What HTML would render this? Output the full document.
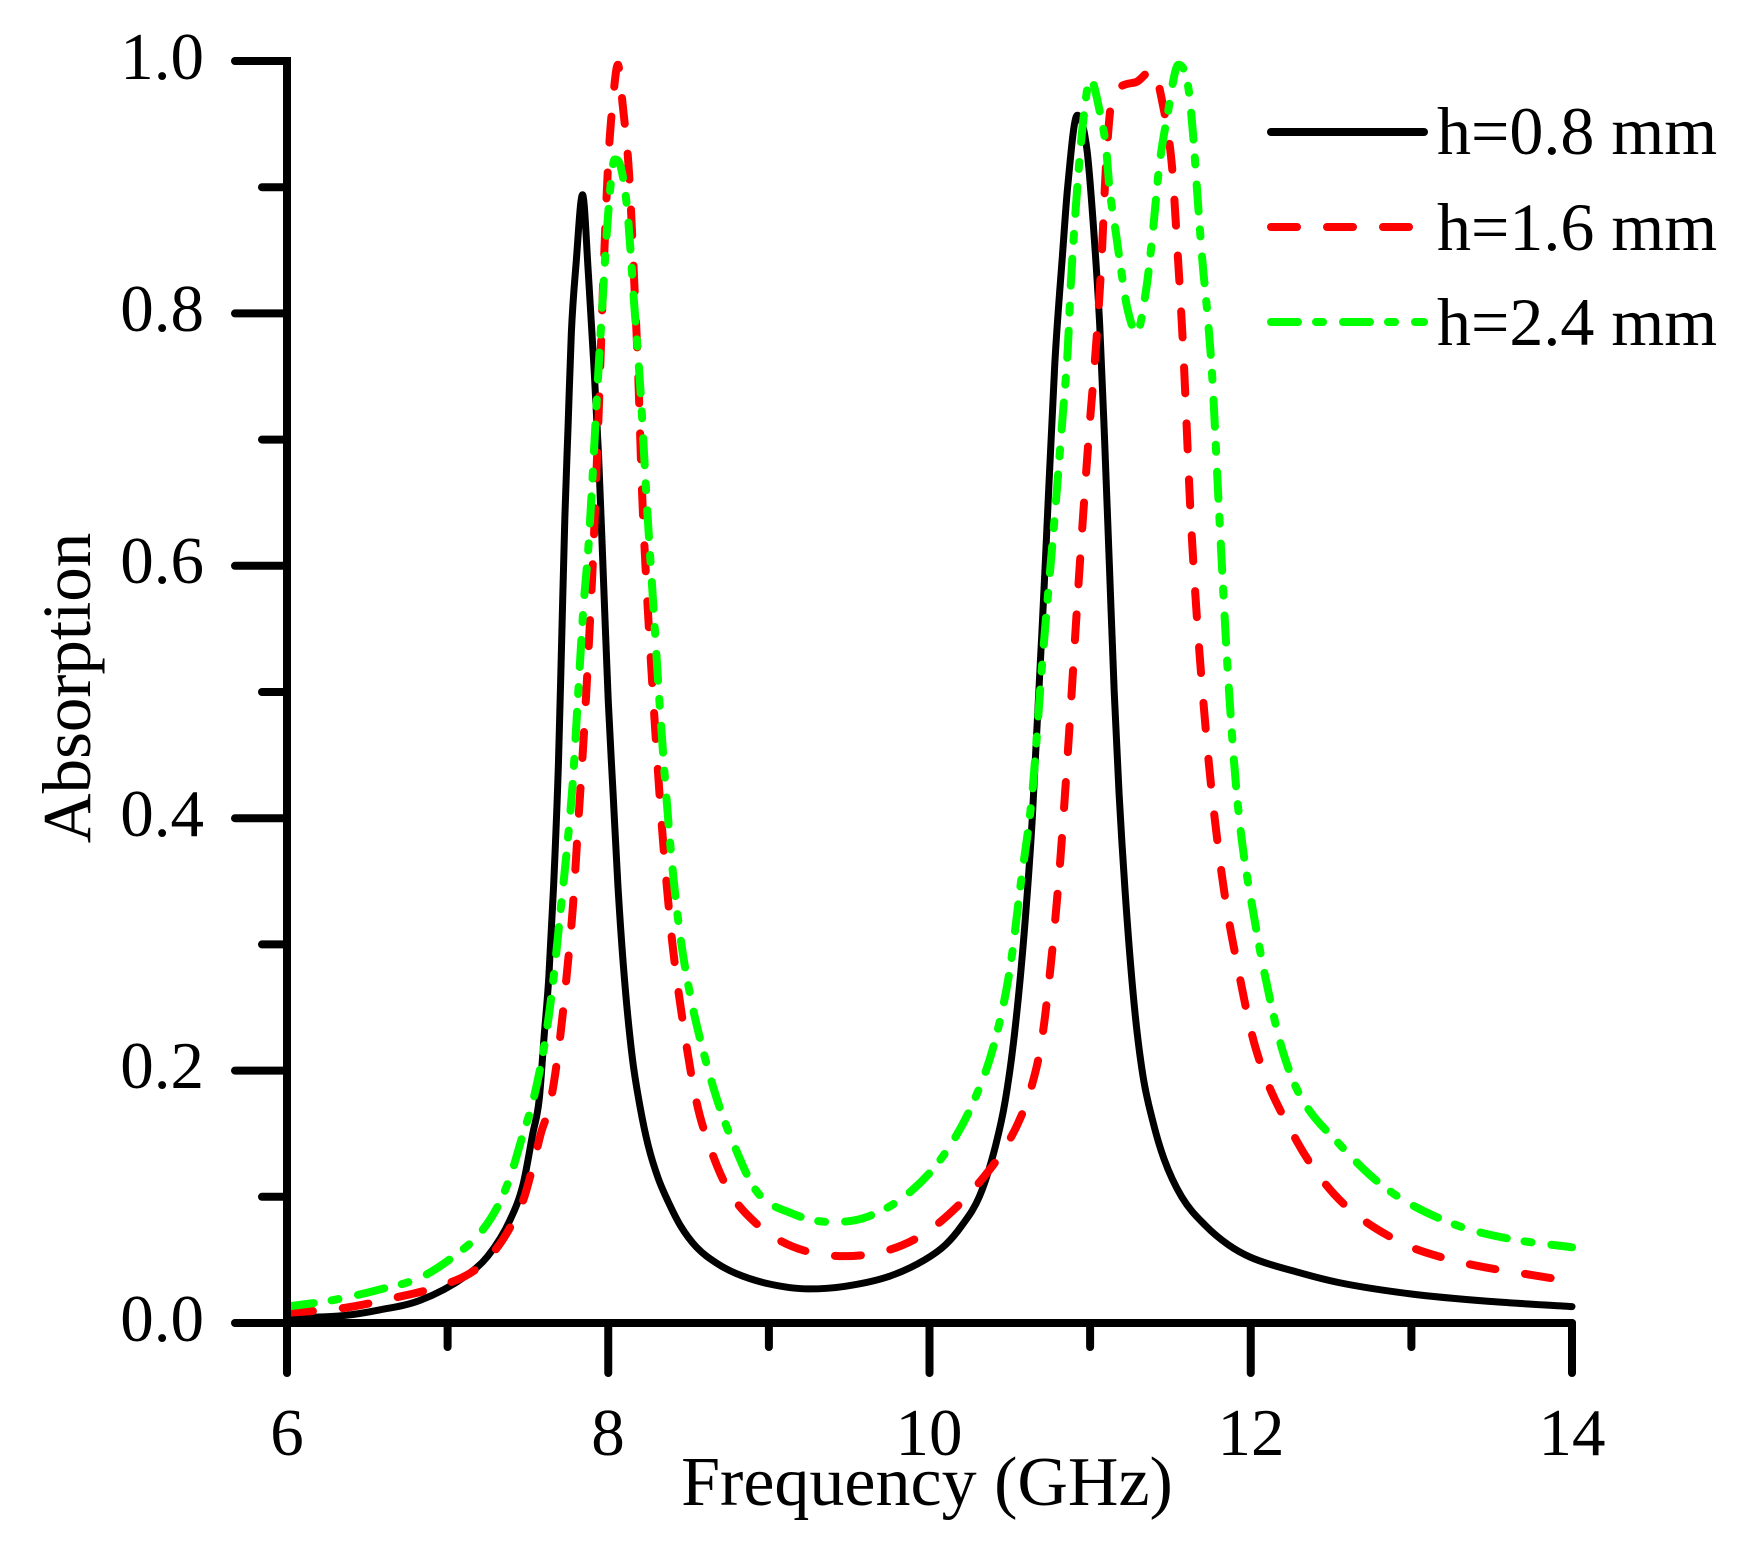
<!DOCTYPE html>
<html>
<head>
<meta charset="utf-8">
<style>
  html, body { margin: 0; padding: 0; background: #ffffff; }
  svg { display: block; }
  text { font-family: "Liberation Serif", "Times New Roman", serif; fill: #000; }
</style>
</head>
<body>
<svg id="chart" width="1750" height="1542" viewBox="0 0 1750 1542" xmlns="http://www.w3.org/2000/svg">
  <rect x="0" y="0" width="1750" height="1542" fill="#ffffff"/>

  <!-- curves -->
  <path id="cBlack" fill="none" stroke="#000000" stroke-width="7" stroke-linejoin="round" stroke-linecap="round" d=""/>
  <path id="cRed" fill="none" stroke="#ff0000" stroke-width="8" stroke-linejoin="round" stroke-linecap="round" stroke-dasharray="26 30" d=""/>
  <path id="cGreen" fill="none" stroke="#00ff00" stroke-width="8" stroke-linejoin="round" stroke-linecap="round" stroke-dasharray="27 18 7 20" d=""/>

  <!-- axes -->
  <g stroke="#000" stroke-width="8" fill="none" stroke-linecap="round">
    <path d="M235,61 H287 V1373" stroke-linejoin="miter" stroke-linecap="round"/>
    <line x1="235" y1="1323" x2="1572" y2="1323"/>
    <!-- y major ticks -->
    <line x1="235" y1="1070.6" x2="287" y2="1070.6"/>
    <line x1="235" y1="818.2" x2="287" y2="818.2"/>
    <line x1="235" y1="565.8" x2="287" y2="565.8"/>
    <line x1="235" y1="313.4" x2="287" y2="313.4"/>
    <!-- y minor ticks -->
    <line x1="262" y1="1196.8" x2="287" y2="1196.8"/>
    <line x1="262" y1="944.4" x2="287" y2="944.4"/>
    <line x1="262" y1="692" x2="287" y2="692"/>
    <line x1="262" y1="439.6" x2="287" y2="439.6"/>
    <line x1="262" y1="187.2" x2="287" y2="187.2"/>
    <!-- x major ticks -->
    <line x1="608.25" y1="1323" x2="608.25" y2="1373"/>
    <line x1="929.5" y1="1323" x2="929.5" y2="1373"/>
    <line x1="1250.75" y1="1323" x2="1250.75" y2="1373"/>
    <line x1="1572" y1="1323" x2="1572" y2="1373"/>
    <!-- x minor ticks -->
    <line x1="447.6" y1="1323" x2="447.6" y2="1347"/>
    <line x1="768.9" y1="1323" x2="768.9" y2="1347"/>
    <line x1="1090.1" y1="1323" x2="1090.1" y2="1347"/>
    <line x1="1411.4" y1="1323" x2="1411.4" y2="1347"/>
  </g>

  <!-- y tick labels -->
  <g font-size="67" text-anchor="end">
    <text x="204" y="1341">0.0</text>
    <text x="204" y="1088">0.2</text>
    <text x="204" y="836">0.4</text>
    <text x="204" y="583">0.6</text>
    <text x="204" y="331">0.8</text>
    <text x="204" y="79">1.0</text>
  </g>

  <!-- x tick labels -->
  <g font-size="67" text-anchor="middle">
    <text x="287" y="1455">6</text>
    <text x="608" y="1455">8</text>
    <text x="929" y="1455">10</text>
    <text x="1251" y="1455">12</text>
    <text x="1572" y="1455">14</text>
  </g>

  <!-- axis titles -->
  <text x="927" y="1505" font-size="70" text-anchor="middle">Frequency (GHz)</text>
  <text transform="translate(90,688) rotate(-90)" font-size="69" text-anchor="middle">Absorption</text>

  <!-- legend -->
  <line x1="1271" y1="132" x2="1424" y2="132" stroke="#000" stroke-width="8" stroke-linecap="round"/>
  <line x1="1271" y1="227" x2="1413" y2="227" stroke="#ff0000" stroke-width="8" stroke-linecap="round" stroke-dasharray="26 30"/>
  <line x1="1271" y1="322" x2="1424" y2="322" stroke="#00ff00" stroke-width="8" stroke-linecap="round" stroke-dasharray="27 18 7 20"/>
  <g font-size="68">
    <text x="1437" y="154">h=0.8 mm</text>
    <text x="1437" y="250">h=1.6 mm</text>
    <text x="1437" y="345">h=2.4 mm</text>
  </g>
</svg>

<script>
(function(){
  function px(f){ return 287 + (f-6)*160.625; }
  function py(a){ return 1323 - a*1262; }
  function build(pts){
    var n = pts.length, xs=[], ys=[], i;
    for(i=0;i<n;i++){ xs.push(px(pts[i][0])); ys.push(py(pts[i][1])); }
    var dx=[], m=[], t=[];
    for(i=0;i<n-1;i++){ dx.push(xs[i+1]-xs[i]); m.push((ys[i+1]-ys[i])/(xs[i+1]-xs[i])); }
    t[0]=m[0]; t[n-1]=m[n-2];
    for(i=1;i<n-1;i++){ t[i] = (m[i-1]*m[i] <= 0) ? 0 : (m[i-1]+m[i])/2; }
    for(i=0;i<n-1;i++){
      if(m[i]===0){ t[i]=0; t[i+1]=0; continue; }
      var a=t[i]/m[i], b=t[i+1]/m[i], s=a*a+b*b;
      if(s>9){ var tau=3/Math.sqrt(s); t[i]=tau*a*m[i]; t[i+1]=tau*b*m[i]; }
    }
    var d = "M"+xs[0].toFixed(2)+","+ys[0].toFixed(2);
    for(i=0;i<n-1;i++){
      var h=dx[i]/3;
      d += " C"+(xs[i]+h).toFixed(2)+","+(ys[i]+t[i]*h).toFixed(2)+" "+
           (xs[i+1]-h).toFixed(2)+","+(ys[i+1]-t[i+1]*h).toFixed(2)+" "+
           xs[i+1].toFixed(2)+","+ys[i+1].toFixed(2);
    }
    return d;
  }
  var black = [[6.0,0.004],[6.36,0.006],[6.56,0.010],[6.83,0.018],[7.11,0.037],[7.25,0.053],[7.39,0.082],[7.47,0.11],[7.53,0.15],[7.57,0.177],[7.60,0.226],[7.63,0.274],[7.66,0.347],[7.69,0.444],[7.71,0.541],[7.73,0.639],[7.75,0.711],[7.77,0.784],[7.80,0.84],[7.84,0.894],[7.876,0.832],[7.91,0.76],[7.94,0.687],[7.97,0.59],[8.0,0.493],[8.03,0.42],[8.06,0.347],[8.10,0.274],[8.15,0.21],[8.20,0.17],[8.25,0.14],[8.31,0.115],[8.37,0.097],[8.45,0.077],[8.55,0.06],[8.68,0.047],[8.8,0.039],[9.0,0.031],[9.25,0.027],[9.47,0.029],[9.75,0.037],[9.97,0.05],[10.1,0.062],[10.2,0.077],[10.31,0.1],[10.4,0.135],[10.47,0.175],[10.53,0.23],[10.59,0.31],[10.64,0.4],[10.72,0.6],[10.78,0.76],[10.83,0.85],[10.86,0.90],[10.92,0.957],[10.98,0.93],[11.02,0.87],[11.06,0.79],[11.09,0.70],[11.12,0.60],[11.15,0.50],[11.18,0.42],[11.23,0.32],[11.28,0.245],[11.33,0.195],[11.39,0.16],[11.46,0.13],[11.57,0.1],[11.72,0.077],[11.86,0.062],[12.0,0.052],[12.3,0.04],[12.55,0.032],[13.0,0.023],[13.5,0.017],[14,0.013]];
  var red = [[6.0,0.008],[6.36,0.012],[6.67,0.02],[6.92,0.028],[7.17,0.042],[7.31,0.06],[7.39,0.076],[7.47,0.097],[7.53,0.124],[7.58,0.15],[7.64,0.175],[7.70,0.226],[7.74,0.274],[7.78,0.33],[7.81,0.39],[7.85,0.47],[7.88,0.54],[7.91,0.62],[7.94,0.72],[7.97,0.83],[8.0,0.92],[8.03,0.97],[8.06,0.997],[8.09,0.965],[8.13,0.91],[8.16,0.83],[8.187,0.75],[8.21,0.66],[8.24,0.58],[8.27,0.515],[8.30,0.455],[8.33,0.40],[8.364,0.347],[8.40,0.30],[8.457,0.245],[8.55,0.175],[8.64,0.137],[8.75,0.105],[8.92,0.079],[9.14,0.061],[9.47,0.053],[9.75,0.058],[9.97,0.071],[10.17,0.092],[10.34,0.116],[10.45,0.135],[10.55,0.158],[10.63,0.185],[10.70,0.225],[10.76,0.29],[10.81,0.36],[10.86,0.45],[10.93,0.59],[10.99,0.70],[11.04,0.78],[11.07,0.84],[11.1,0.92],[11.14,0.972],[11.28,0.983],[11.39,0.993],[11.45,0.967],[11.51,0.916],[11.54,0.858],[11.58,0.77],[11.63,0.63],[11.72,0.47],[11.82,0.355],[11.93,0.275],[12.03,0.218],[12.27,0.148],[12.52,0.102],[12.9,0.066],[13.25,0.05],[13.8,0.037],[13.95,0.034]];
  var green = [[6.0,0.013],[6.28,0.018],[6.56,0.026],[6.83,0.036],[7.03,0.052],[7.2,0.071],[7.31,0.092],[7.39,0.116],[7.47,0.15],[7.53,0.175],[7.61,0.226],[7.66,0.274],[7.70,0.323],[7.74,0.372],[7.78,0.43],[7.81,0.493],[7.845,0.566],[7.876,0.614],[7.90,0.665],[7.93,0.735],[7.96,0.80],[8.0,0.88],[8.04,0.922],[8.08,0.915],[8.12,0.88],[8.16,0.81],[8.2,0.74],[8.24,0.65],[8.28,0.57],[8.32,0.49],[8.36,0.42],[8.40,0.36],[8.45,0.305],[8.51,0.26],[8.57,0.226],[8.675,0.178],[8.78,0.142],[8.92,0.105],[9.14,0.087],[9.39,0.08],[9.61,0.084],[9.89,0.105],[10.11,0.137],[10.28,0.177],[10.4,0.22],[10.5,0.28],[10.57,0.35],[10.64,0.42],[10.7,0.52],[10.78,0.64],[10.83,0.72],[10.86,0.77],[10.88,0.824],[10.9,0.864],[10.93,0.916],[10.96,0.956],[11.0,0.986],[11.06,0.96],[11.1,0.93],[11.12,0.90],[11.16,0.864],[11.19,0.837],[11.23,0.805],[11.29,0.785],[11.35,0.82],[11.39,0.864],[11.43,0.916],[11.48,0.956],[11.55,0.997],[11.61,0.98],[11.64,0.943],[11.67,0.89],[11.70,0.84],[11.73,0.80],[11.76,0.75],[11.80,0.65],[11.86,0.51],[11.92,0.41],[12.03,0.315],[12.14,0.245],[12.2,0.215],[12.3,0.182],[12.55,0.142],[12.85,0.106],[13.25,0.079],[13.6,0.067],[14.0,0.06]];
  document.getElementById('cBlack').setAttribute('d', build(black));
  document.getElementById('cRed').setAttribute('d', build(red));
  document.getElementById('cGreen').setAttribute('d', build(green));
})();
</script>
</body>
</html>
